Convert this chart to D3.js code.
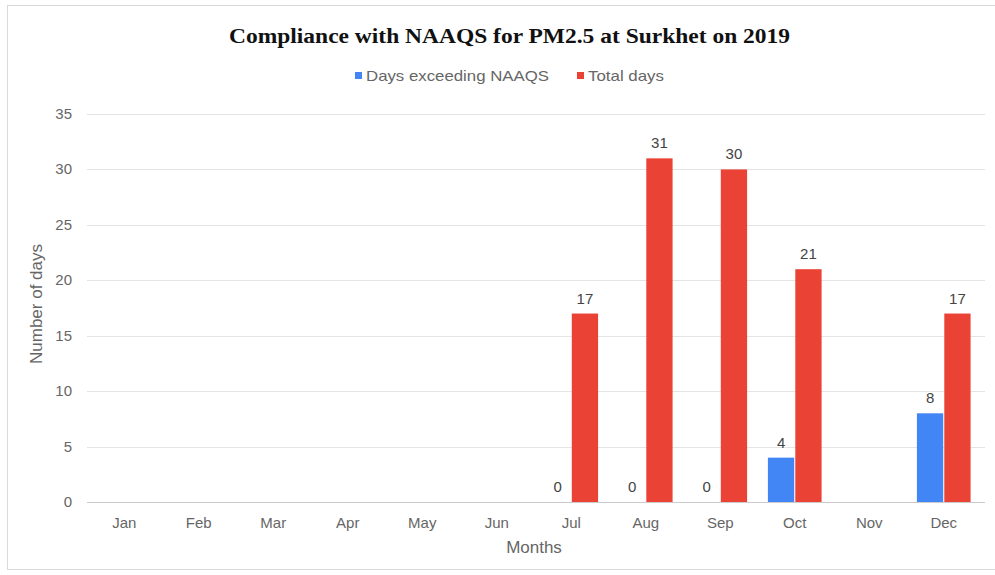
<!DOCTYPE html>
<html>
<head>
<meta charset="utf-8">
<script src="https://cdn.jsdelivr.net/npm/d3@7"></script>
<style>
  body { margin: 0; background: #fff; }
  text { font-family: "Liberation Sans", Arial, sans-serif; }
</style>
</head>
<body>
<div id="chart"></div>
<script>
const months = ["Jan", "Feb", "Mar", "Apr", "May", "Jun", "Jul", "Aug", "Sep", "Oct", "Nov", "Dec"];
const exceedDays = [null, null, null, null, null, null, 0, 0, 0, 4, null, 8];
const totalDays = [null, null, null, null, null, null, 17, 31, 30, 21, null, 17];
const seriesNames = ["Days exceeding NAAQS", "Total days"];
const yTicks = [0, 5, 10, 15, 20, 25, 30, 35];

const width = 995, height = 575;
const margin = { top: 114, right: 14, bottom: 73, left: 87 };
const colors = ["#4285f4", "#ea4335"];
const grey = "#666";

const svg = d3.select("#chart").append("svg")
  .attr("width", width)
  .attr("height", height);

// outer frame
svg.append("rect")
  .attr("x", 7.5).attr("y", 5.5)
  .attr("width", 995).attr("height", 564)
  .attr("fill", "none")
  .attr("stroke", "#d9d9d9");

const x = d3.scaleBand().domain(months).range([margin.left, width - margin.right]).paddingInner(0.25).paddingOuter(0.125);
const x1 = d3.scaleBand().domain([0, 1]).range([0, x.bandwidth()]).padding(0.04);
const y = d3.scaleLinear().domain([0, 35]).range([height - margin.bottom, margin.top]);

// grid
svg.append("g").selectAll("line")
  .data(yTicks)
  .join("line")
  .attr("x1", margin.left).attr("x2", 985)
  .attr("y1", d => Math.round(y(d)) + 0.5).attr("y2", d => Math.round(y(d)) + 0.5)
  .attr("stroke", d => d === 0 ? "#cccccc" : "#e4e4e4");

svg.append("g").selectAll("text")
  .data(yTicks)
  .join("text")
  .attr("x", 72).attr("y", d => y(d) + 5)
  .attr("text-anchor", "end")
  .attr("font-size", 15)
  .attr("fill", grey)
  .text(d => d);

// month labels
svg.append("g").selectAll("text")
  .data(months)
  .join("text")
  .attr("x", d => x(d) + x.bandwidth() / 2)
  .attr("y", 528)
  .attr("text-anchor", "middle")
  .attr("font-size", 15)
  .attr("fill", grey)
  .text(d => d);

// bars
const rows = months.map((m, i) => ({ month: m, vals: [exceedDays[i], totalDays[i]] }));
const groups = svg.append("g").selectAll("g")
  .data(rows)
  .join("g")
  .attr("transform", d => `translate(${x(d.month)},0)`);

groups.selectAll("rect")
  .data(d => d.vals.map((v, k) => ({ v, k })).filter(e => e.v !== null))
  .join("rect")
  .attr("x", e => x1(e.k))
  .attr("width", x1.bandwidth())
  .attr("y", e => y(e.v))
  .attr("height", e => y(0) - y(e.v))
  .attr("fill", e => colors[e.k]);

groups.selectAll("text")
  .data(d => d.vals.map((v, k) => ({ v, k })).filter(e => e.v !== null))
  .join("text")
  .attr("x", e => x1(e.k) + x1.bandwidth() / 2)
  .attr("y", e => y(e.v) - 10)
  .attr("text-anchor", "middle")
  .attr("font-size", 15)
  .attr("fill", "#444")
  .text(e => e.v);

// axis titles
svg.append("text")
  .attr("transform", `translate(42,304) rotate(-90)`)
  .attr("text-anchor", "middle")
  .attr("font-size", 17)
  .attr("fill", grey)
  .text("Number of days");

svg.append("text")
  .attr("x", 534).attr("y", 553)
  .attr("text-anchor", "middle")
  .attr("font-size", 17)
  .attr("fill", grey)
  .text("Months");

// title
svg.append("text")
  .attr("x", 229).attr("y", 43)
  .attr("font-size", 22)
  .attr("font-weight", "bold")
  .attr("textLength", 561)
  .attr("lengthAdjust", "spacingAndGlyphs")
  .style("font-family", "'Liberation Serif', serif")
  .attr("fill", "#111")
  .text("Compliance with NAAQS for PM2.5 at Surkhet on 2019");

// legend
const legend = svg.append("g");
const legendX = [355, 577];
const legendLen = [183, 76];
seriesNames.forEach((name, k) => {
  legend.append("rect")
    .attr("x", legendX[k]).attr("y", 72)
    .attr("width", 7).attr("height", 7)
    .attr("fill", colors[k]);
  legend.append("text")
    .attr("x", legendX[k] + 11).attr("y", 81)
    .attr("font-size", 15)
    .attr("textLength", legendLen[k])
    .attr("lengthAdjust", "spacingAndGlyphs")
    .attr("fill", grey)
    .text(name);
});
</script>
</body>
</html>
